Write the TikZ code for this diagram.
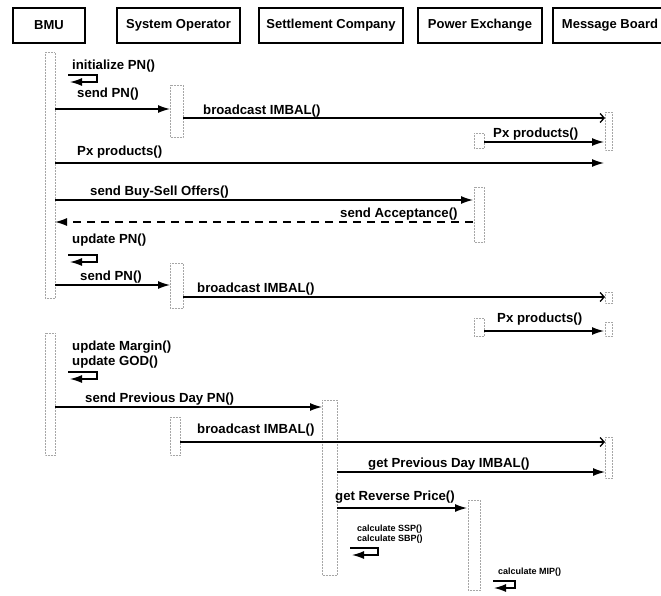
\documentclass[tikz,border=0pt]{standalone}
\usepackage{fontspec}
\setmainfont{Liberation Sans}
\usetikzlibrary{arrows.meta}
\begin{document}
\begin{tikzpicture}[x=1pt,y=-1pt,
  hdr/.style={draw, line width=1.1pt, minimum height=35pt, inner sep=0pt, font=\fontsize{13}{15}\selectfont\bfseries},
  lbl/.style={anchor=base west, inner sep=0pt, font=\fontsize{13.2}{15}\selectfont\bfseries},
  slbl/.style={anchor=base west, inner sep=0pt, font=\fontsize{9}{10}\selectfont\bfseries},
  msg/.style={line width=1.3pt, -{Latex[length=12pt,width=8pt]}},
  async/.style={line width=1.3pt, -{Straight Barb[length=4pt,width=9pt]}},
  ret/.style={line width=1.3pt, dash pattern=on 8pt off 6pt, -{Latex[length=12pt,width=8pt]}},
  act/.style={draw=gray!70, densely dotted, line width=0.5pt},
]
\useasboundingbox (0,0) rectangle (661,595);
\clip (0,0) rectangle (661,595);

% headers
\node[hdr, minimum width=72pt]  (bmu) at (49,25.5)    {BMU};
\node[hdr, minimum width=123pt] (so)  at (178.5,25.5) {System Operator};
\node[hdr, minimum width=144pt] (sc)  at (331,25.5)   {Settlement Company};
\node[hdr, minimum width=124pt] (pe)  at (480,25.5)   {Power Exchange};
\node[hdr, minimum width=114pt] (mb)  at (610,25.5)   {Message Board};

% activations (faint)
\draw[act] (45,52) rectangle (55,298);
\draw[act] (45,333) rectangle (55,455);
\draw[act] (170,85) rectangle (183,137);
\draw[act] (170,263) rectangle (183,308);
\draw[act] (170,417) rectangle (180,455);
\draw[act] (605,112) rectangle (612,150);
\draw[act] (605,292) rectangle (612,303);
\draw[act] (605,322) rectangle (612,336);
\draw[act] (605,437) rectangle (612,478);
\draw[act] (474,133) rectangle (484,148);
\draw[act] (474,187) rectangle (484,242);
\draw[act] (474,318) rectangle (484,336);
\draw[act] (468,500) rectangle (480,590);
\draw[act] (322,400) rectangle (337,575);

% 1 initialize PN
\node[lbl] (l1) at (72,69) {initialize PN()};
\coordinate (s1a) at (68,75); \coordinate (s1b) at (70,82);
\draw[msg] (s1a) -- ++(29,0) |- (s1b);

% 2 send PN
\node[lbl] (l2) at (77,97) {send PN()};
\coordinate (m2a) at (55,109); \coordinate (m2b) at (170,109);
\draw[msg] (m2a) -- (m2b);

% 3 broadcast IMBAL
\node[lbl] (l3) at (203,114) {broadcast IMBAL()};
\coordinate (m3a) at (183,118); \coordinate (m3b) at (605,118);
\draw[async] (m3a) -- (m3b);

% 4 Px products (PE)
\node[lbl] (l4) at (493,137) {Px products()};
\coordinate (m4a) at (484,142); \coordinate (m4b) at (604,142);
\draw[msg] (m4a) -- (m4b);

% 5 Px products (BMU)
\node[lbl] (l5) at (77,155) {Px products()};
\coordinate (m5a) at (55,163); \coordinate (m5b) at (604,163);
\draw[msg] (m5a) -- (m5b);

% 6 send Buy-Sell Offers
\node[lbl] (l6) at (90,195) {send Buy-Sell Offers()};
\coordinate (m6a) at (55,200); \coordinate (m6b) at (473,200);
\draw[msg] (m6a) -- (m6b);

% 7 send Acceptance
\node[lbl] (l7) at (340,217) {send Acceptance()};
\coordinate (m7a) at (473,222); \coordinate (m7b) at (55,222);
\draw[ret] (m7a) -- (m7b);

% 8 update PN
\node[lbl] (l8) at (72,243) {update PN()};
\coordinate (s8a) at (68,255); \coordinate (s8b) at (70,262);
\draw[msg] (s8a) -- ++(29,0) |- (s8b);

% 9 send PN
\node[lbl] (l9) at (80,280) {send PN()};
\coordinate (m9a) at (55,285); \coordinate (m9b) at (170,285);
\draw[msg] (m9a) -- (m9b);

% 10 broadcast IMBAL
\node[lbl] (l10) at (197,292) {broadcast IMBAL()};
\coordinate (m10a) at (183,297); \coordinate (m10b) at (605,297);
\draw[async] (m10a) -- (m10b);

% 11 Px products
\node[lbl] (l11) at (497,322) {Px products()};
\coordinate (m11a) at (484,331); \coordinate (m11b) at (604,331);
\draw[msg] (m11a) -- (m11b);

% 12 update Margin / GOD
\node[lbl] (l12) at (72,350) {update Margin()};
\node[lbl] (l13) at (72,365) {update GOD()};
\coordinate (s13a) at (68,372); \coordinate (s13b) at (70,379);
\draw[msg] (s13a) -- ++(29,0) |- (s13b);

% 14 send Previous Day PN
\node[lbl] (l14) at (85,402) {send Previous Day PN()};
\coordinate (m14a) at (55,407); \coordinate (m14b) at (322,407);
\draw[msg] (m14a) -- (m14b);

% 15 broadcast IMBAL
\node[lbl] (l15) at (197,433) {broadcast IMBAL()};
\coordinate (m15a) at (180,442); \coordinate (m15b) at (605,442);
\draw[async] (m15a) -- (m15b);

% 16 get Previous Day IMBAL
\node[lbl] (l16) at (368,467) {get Previous Day IMBAL()};
\coordinate (m16a) at (337,472); \coordinate (m16b) at (605,472);
\draw[msg] (m16a) -- (m16b);

% 17 get Reverse Price
\node[lbl] (l17) at (335,500) {get Reverse Price()};
\coordinate (m17a) at (337,508); \coordinate (m17b) at (467,508);
\draw[msg] (m17a) -- (m17b);

% 18 calculate SSP / SBP
\node[slbl] (l18) at (357,531) {calculate SSP()};
\node[slbl] (l19) at (357,541) {calculate SBP()};
\coordinate (s19a) at (350,548); \coordinate (s19b) at (352,555);
\draw[msg] (s19a) -- ++(28,0) |- (s19b);

% 20 calculate MIP
\node[slbl] (l20) at (498,574) {calculate MIP()};
\coordinate (s20a) at (493,581); \coordinate (s20b) at (494,588);
\draw[msg] (s20a) -- ++(22,0) |- (s20b);
\end{tikzpicture}
\end{document}
